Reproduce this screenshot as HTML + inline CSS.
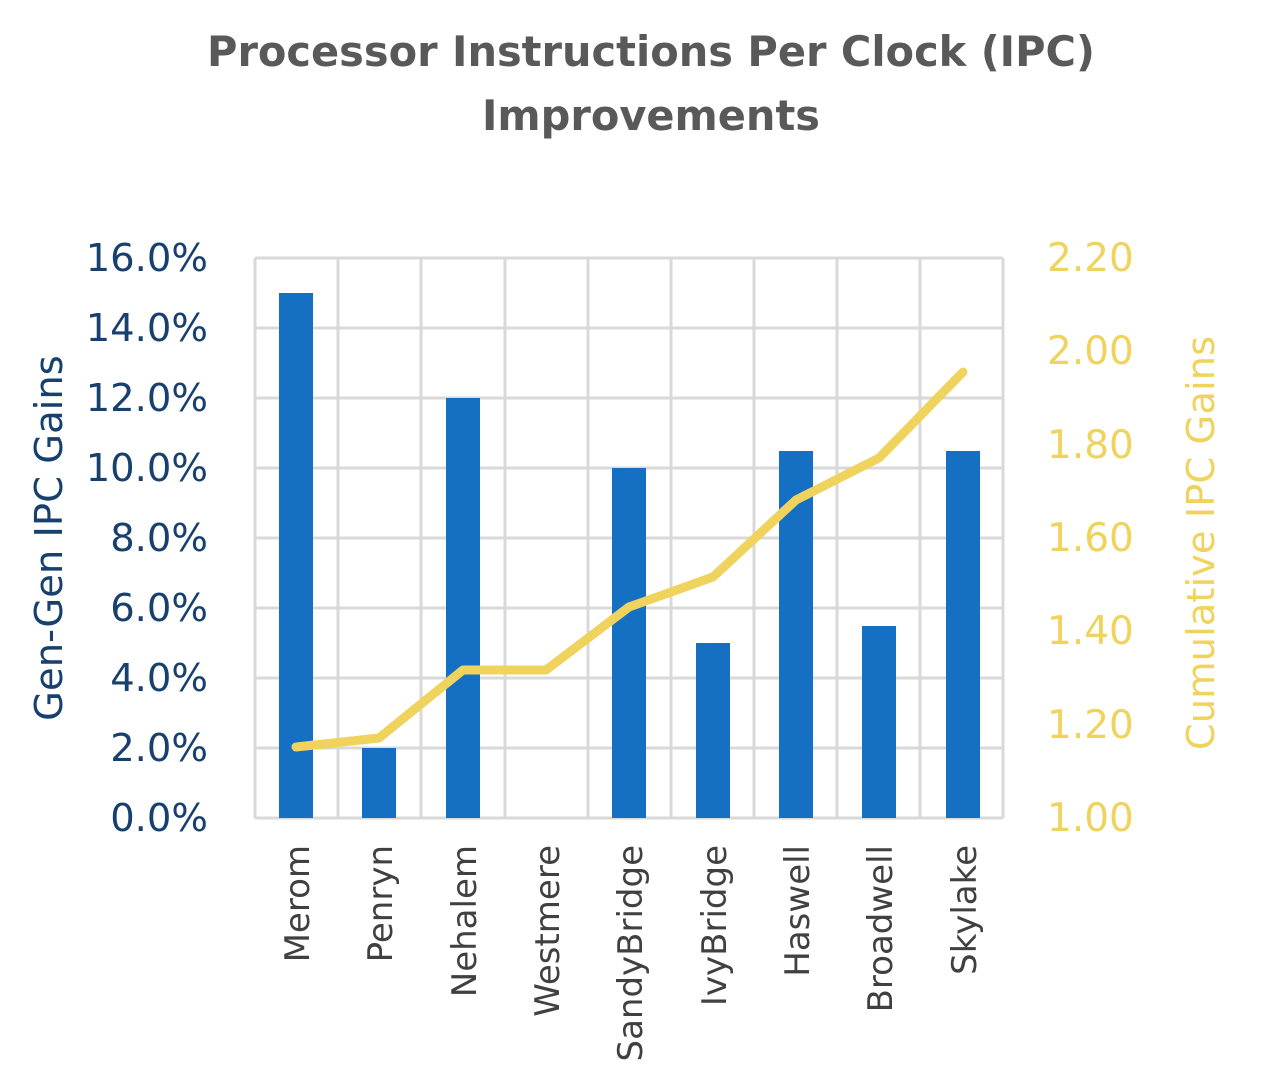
<!DOCTYPE html>
<html><head><style>body{margin:0;background:#fff}svg{display:block}</style></head>
<body>
<svg width="1266" height="1086" viewBox="0 0 1266 1086" xmlns="http://www.w3.org/2000/svg" font-family="'DejaVu Sans','Liberation Sans',sans-serif">
<text x="651" y="66" text-anchor="middle" font-size="41.5" font-weight="bold" fill="#595959">Processor Instructions Per Clock (IPC)</text>
<text x="651" y="130" text-anchor="middle" font-size="41.5" font-weight="bold" fill="#595959">Improvements</text>
<g stroke="#d9d9d9" stroke-width="3">
<line x1="255" y1="258" x2="1003" y2="258"/><line x1="255" y1="328" x2="1003" y2="328"/><line x1="255" y1="398" x2="1003" y2="398"/><line x1="255" y1="468" x2="1003" y2="468"/><line x1="255" y1="538" x2="1003" y2="538"/><line x1="255" y1="608" x2="1003" y2="608"/><line x1="255" y1="678" x2="1003" y2="678"/><line x1="255" y1="748" x2="1003" y2="748"/><line x1="255" y1="818" x2="1003" y2="818"/>
<line x1="255" y1="258" x2="255" y2="818"/><line x1="338" y1="258" x2="338" y2="818"/><line x1="421" y1="258" x2="421" y2="818"/><line x1="505" y1="258" x2="505" y2="818"/><line x1="588" y1="258" x2="588" y2="818"/><line x1="671" y1="258" x2="671" y2="818"/><line x1="754" y1="258" x2="754" y2="818"/><line x1="837" y1="258" x2="837" y2="818"/><line x1="920" y1="258" x2="920" y2="818"/><line x1="1003" y1="258" x2="1003" y2="818"/>
</g>
<g fill="#1570c4">
<rect x="279" y="293" width="34" height="525"/><rect x="362" y="748" width="34" height="70"/><rect x="446" y="398" width="34" height="420"/><rect x="612" y="468" width="34" height="350"/><rect x="696" y="643" width="34" height="175"/><rect x="779" y="451" width="34" height="367"/><rect x="862" y="626" width="34" height="192"/><rect x="946" y="451" width="34" height="367"/>
</g>
<polyline points="296,747 379,738 463,670 546,670 629,607 713,577 796,500 879,458 963,372" fill="none" stroke="#f0d35c" stroke-width="9" stroke-linejoin="round" stroke-linecap="round"/>
<g font-size="38.5" fill="#17406f" text-anchor="end">
<text x="208" y="271">16.0%</text><text x="208" y="341">14.0%</text><text x="208" y="411">12.0%</text><text x="208" y="481">10.0%</text><text x="208" y="551">8.0%</text><text x="208" y="621">6.0%</text><text x="208" y="691">4.0%</text><text x="208" y="761">2.0%</text><text x="208" y="831">0.0%</text>
</g>
<g font-size="39" fill="#f0d35c">
<text x="1047" y="271">2.20</text><text x="1047" y="364">2.00</text><text x="1047" y="458">1.80</text><text x="1047" y="551">1.60</text><text x="1047" y="644">1.40</text><text x="1047" y="738">1.20</text><text x="1047" y="831">1.00</text>
</g>
<text transform="translate(62,538) rotate(-90)" text-anchor="middle" font-size="38.5" fill="#17406f">Gen-Gen IPC Gains</text>
<text transform="translate(1214,543) rotate(-90)" text-anchor="middle" font-size="38.5" fill="#f0d35c">Cumulative IPC Gains</text>
<g font-size="34" fill="#404040" text-anchor="end">
<text transform="translate(309,845) rotate(-90)">Merom</text><text transform="translate(392,845) rotate(-90)">Penryn</text><text transform="translate(476,845) rotate(-90)">Nehalem</text><text transform="translate(559,845) rotate(-90)">Westmere</text><text transform="translate(642,845) rotate(-90)">SandyBridge</text><text transform="translate(726,845) rotate(-90)">IvyBridge</text><text transform="translate(809,845) rotate(-90)">Haswell</text><text transform="translate(892,845) rotate(-90)">Broadwell</text><text transform="translate(976,845) rotate(-90)">Skylake</text>
</g>
</svg>
</body></html>
